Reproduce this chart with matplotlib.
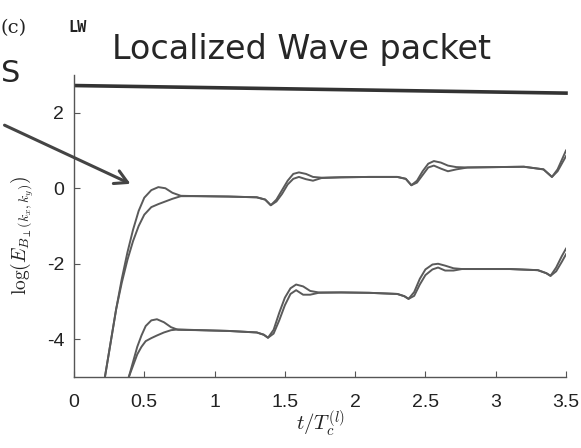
import numpy as np
import matplotlib.pyplot as plt

plt.rcParams['axes.unicode_minus'] = False
plt.rcParams['mathtext.fontset'] = 'cm'

# upper group (two nearly overlapping runs)
t_up = [0.22, 0.26, 0.30, 0.34, 0.38, 0.42, 0.46, 0.50, 0.55, 0.60, 0.65, 0.70, 0.76,
        0.90, 1.10, 1.30, 1.36, 1.40, 1.44, 1.48, 1.52, 1.56, 1.60, 1.65, 1.70, 1.76,
        1.90, 2.10, 2.30, 2.36, 2.40, 2.44, 2.48, 2.52, 2.56, 2.61, 2.66, 2.72, 2.80,
        3.00, 3.20, 3.34, 3.40, 3.44, 3.47, 3.50]
up_a = [-5.0, -4.1, -3.2, -2.4, -1.7, -1.1, -0.6, -0.25, -0.05, 0.03, 0.0, -0.12, -0.2,
        -0.21, -0.22, -0.24, -0.3, -0.45, -0.3, -0.05, 0.2, 0.38, 0.42, 0.38, 0.3, 0.28,
        0.29, 0.3, 0.3, 0.25, 0.08, 0.2, 0.45, 0.65, 0.72, 0.68, 0.6, 0.56, 0.55,
        0.56, 0.57, 0.5, 0.3, 0.5, 0.75, 1.0]
up_b = [-5.0, -4.1, -3.2, -2.5, -1.9, -1.4, -1.0, -0.7, -0.5, -0.42, -0.35, -0.28, -0.21,
        -0.21, -0.22, -0.24, -0.3, -0.45, -0.35, -0.15, 0.1, 0.25, 0.3, 0.24, 0.2, 0.27,
        0.29, 0.3, 0.3, 0.25, 0.08, 0.15, 0.35, 0.55, 0.6, 0.52, 0.45, 0.5, 0.55,
        0.56, 0.57, 0.5, 0.3, 0.45, 0.65, 0.85]

# lower group
t_lo = [0.39, 0.42, 0.45, 0.48, 0.51, 0.55, 0.59, 0.64, 0.69, 0.74, 0.90, 1.10, 1.30,
        1.35, 1.38, 1.42, 1.46, 1.50, 1.54, 1.58, 1.63, 1.68, 1.74, 1.90, 2.10, 2.30,
        2.35, 2.38, 2.42, 2.46, 2.50, 2.55, 2.59, 2.64, 2.70, 2.76, 2.90, 3.10, 3.30,
        3.36, 3.39, 3.43, 3.47, 3.50]
lo_a = [-5.0, -4.6, -4.2, -3.9, -3.65, -3.5, -3.47, -3.55, -3.68, -3.75, -3.76, -3.78, -3.82,
        -3.88, -3.96, -3.75, -3.3, -2.9, -2.65, -2.55, -2.6, -2.72, -2.76, -2.76, -2.77, -2.8,
        -2.86, -2.93, -2.75, -2.4, -2.15, -2.02, -2.0, -2.05, -2.12, -2.14, -2.14, -2.14, -2.17,
        -2.25, -2.32, -2.1, -1.8, -1.6]
lo_b = [-5.0, -4.7, -4.4, -4.2, -4.05, -3.97, -3.9, -3.82, -3.76, -3.74, -3.76, -3.78, -3.82,
        -3.88, -3.96, -3.85, -3.5, -3.1, -2.8, -2.7, -2.82, -2.82, -2.77, -2.76, -2.77, -2.8,
        -2.86, -2.93, -2.85, -2.55, -2.3, -2.15, -2.1, -2.18, -2.18, -2.14, -2.14, -2.14, -2.17,
        -2.25, -2.32, -2.2, -1.95, -1.75]

xticks = [0, 0.5, 1, 1.5, 2, 2.5, 3, 3.5]
xticklabels = ['0', '0.5', '1', '1.5', '2', '2.5', '3', '3.5']
yticks = [-4, -2, 0, 2]

W, H = 581, 448
fig = plt.figure(figsize=(W / 100, H / 100), dpi=100)
ax = fig.add_axes([74 / W, 1 - 377 / H, (566 - 74) / W, (377 - 75) / H])

line_col = '#5a5a5a'
for y in (up_a, up_b):
    ax.plot(t_up, y, color=line_col, lw=1.4)
for y in (lo_a, lo_b):
    ax.plot(t_lo, y, color=line_col, lw=1.4)

ax.set_xlim(0, 3.5)
ax.set_ylim(-5, 3)
ax.set_xticks(xticks)
ax.set_xticklabels(xticklabels)
ax.set_yticks(yticks)
ax.spines['top'].set_visible(False)
ax.spines['right'].set_visible(False)
for s in ('left', 'bottom'):
    ax.spines[s].set_color('#555555')
    ax.spines[s].set_linewidth(1.0)
ax.tick_params(direction='in', length=4, color='#555555', labelsize=14,
               labelcolor='#222222')
for lab in ax.get_xticklabels() + ax.get_yticklabels():
    lab.set_family('Liberation Sans')
ax.tick_params(axis='x', pad=12)
ax.tick_params(axis='y', pad=7)

ax.set_xlabel(r'$t/T_c^{(l)}$', fontsize=15, color='#222222', labelpad=-1)
ax.set_ylabel(r'$\log(E_{B_\perp(k_x,k_y)})$', fontsize=14, color='#222222')
ax.yaxis.set_label_coords(-0.078, 0.47)

# hand-drawn underline across the top
ax.plot([0.005, 1.0], [0.965, 0.94], transform=ax.transAxes, color='#333333',
        lw=2.6, clip_on=False)

# annotations around the panel
fig.text(1 / W, 1 - 28 / H, '(c)', fontsize=14, family='DejaVu Serif',
         color='#222222', va='center', ha='left')
fig.text(68 / W, 1 - 28 / H, 'LW', fontsize=11, family='DejaVu Sans Mono',
         weight='bold', color='#222222', va='center')
fig.text(112 / W, 1 - 50 / H, 'Localized Wave packet', fontsize=24,
         color='#262626', va='center', ha='left')
fig.text(1 / W, 1 - 74 / H, 'S', fontsize=22, color='#262626',
         va='center', ha='left')
ax.annotate('', xy=(133 / W, 1 - 185 / H), xytext=(2 / W, 1 - 124 / H),
            xycoords='figure fraction', textcoords='figure fraction',
            arrowprops=dict(arrowstyle='->,head_length=0.9,head_width=0.5',
                            color='#444444', lw=2.2))

fig.savefig('out.png', dpi=100)
